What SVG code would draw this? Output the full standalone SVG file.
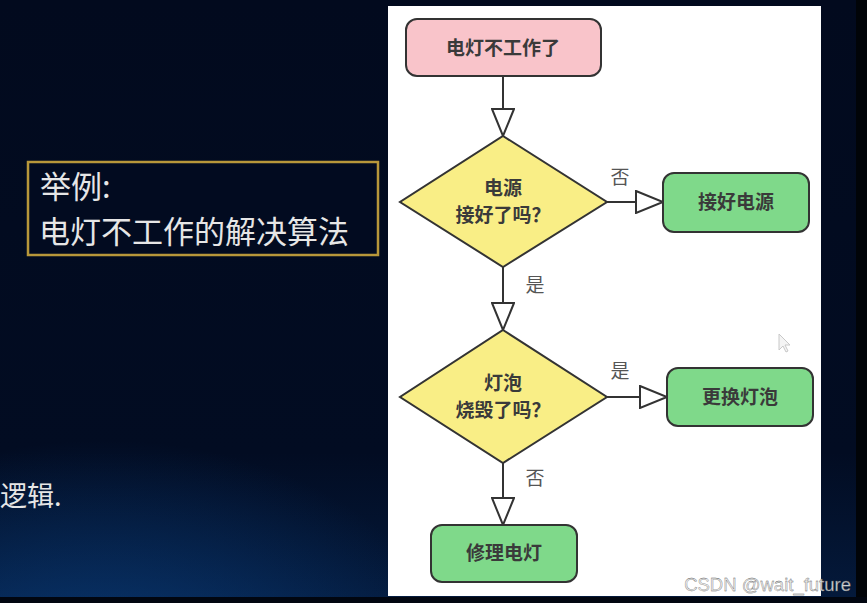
<svg xmlns="http://www.w3.org/2000/svg" width="867" height="603" viewBox="0 0 867 603">
<defs>
<linearGradient id="bg" x1="0" y1="0" x2="0" y2="1">
<stop offset="0" stop-color="#020a1e"/>
<stop offset="0.75" stop-color="#020c22"/>
<stop offset="1" stop-color="#041a3c"/>
</linearGradient>
<radialGradient id="glow" cx="0.12" cy="1.15" r="0.42">
<stop offset="0" stop-color="#0b4488" stop-opacity="0.75"/>
<stop offset="1" stop-color="#0b4488" stop-opacity="0"/>
</radialGradient>
<marker id="tri" viewBox="0 0 30 24" refX="28" refY="12" markerWidth="30" markerHeight="24" markerUnits="userSpaceOnUse" orient="auto">
<path d="M1,1 L28,12 L1,23 Z" fill="#ffffff" stroke="#333333" stroke-width="2"/>
</marker>
<style>
.node{stroke:#333333;stroke-width:2}
.start{fill:#f9c4ca}
.dec{fill:#f9ee86}
.act{fill:#7fd98a}
.t{font-family:"Noto Sans CJK SC","Noto Sans",sans-serif;font-size:19px;font-weight:600;fill:#3a3a3a;text-anchor:middle}
.lab{font-family:"Noto Sans CJK SC","Noto Sans",sans-serif;font-size:19px;fill:#555555;text-anchor:middle}
.edge{stroke:#333333;stroke-width:2;fill:none}
.white{font-family:"Noto Sans CJK SC","Noto Sans",sans-serif;fill:#e6e6e6}
</style>
</defs>
<rect x="0" y="0" width="867" height="603" fill="url(#bg)"/>
<rect x="0" y="0" width="867" height="603" fill="url(#glow)"/>
<rect x="856" y="0" width="11" height="603" fill="#010408"/>
<rect x="0" y="597" width="867" height="6" fill="#010610"/>

<g id="example-box">
<rect x="28" y="162" width="350" height="93" fill="#020b20" stroke="#b8973a" stroke-width="2.5"/>
<text class="white" font-size="31"><tspan x="40" y="198">举例:</tspan><tspan x="39" y="243">电灯不工作的解决算法</tspan></text>
</g>
<text class="white" x="0" y="506" font-size="27">逻辑.</text>

<rect x="388" y="6" width="433" height="590" fill="#ffffff"/>

<g id="connectors">
<path class="edge" d="M503,76 L503,136" marker-end="url(#tri)"/>
<path class="edge" d="M607,202 L663,202" marker-end="url(#tri)"/>
<path class="edge" d="M503,267 L503,330" marker-end="url(#tri)"/>
<path class="edge" d="M607,397 L667,397" marker-end="url(#tri)"/>
<path class="edge" d="M503,463 L503,525" marker-end="url(#tri)"/>
<text class="lab" x="620" y="184">否</text>
<text class="lab" x="535" y="292">是</text>
<text class="lab" x="620" y="378">是</text>
<text class="lab" x="535" y="485">否</text>
</g>

<g id="start">
<rect class="node start" x="406" y="19" width="195" height="57" rx="11"/>
<text class="t" x="503" y="55">电灯不工作了</text>
</g>
<g id="check-power">
<path class="node dec" d="M503,136 L607,202 L503,267 L400,202 Z"/>
<text class="t" x="503" y="195">电源</text>
<text class="t" x="503" y="222">接好了吗？</text>
</g>
<g id="connect-power">
<rect class="node act" x="663" y="173" width="146" height="59" rx="11"/>
<text class="t" x="736" y="209">接好电源</text>
</g>
<g id="check-bulb">
<path class="node dec" d="M503,330 L607,397 L503,463 L400,397 Z"/>
<text class="t" x="503" y="390">灯泡</text>
<text class="t" x="503" y="417">烧毁了吗？</text>
</g>
<g id="replace-bulb">
<rect class="node act" x="667" y="368" width="146" height="58" rx="11"/>
<text class="t" x="740" y="404">更换灯泡</text>
</g>
<g id="repair">
<rect class="node act" x="431" y="525" width="146" height="57" rx="11"/>
<text class="t" x="504" y="560">修理电灯</text>
</g>

<path d="M779,334 L779,350 L783,346 L786,352 L788,351 L785,345 L790,345 Z" fill="#f4f4f4" stroke="#c8c8c8" stroke-width="1"/>

<text x="851" y="591" text-anchor="end" font-family="Liberation Sans, Arial, sans-serif" font-size="18.5" fill="#e8e8e8" stroke="#555555" stroke-width="0.3" fill-opacity="0.9">CSDN @wait_future</text>
</svg>
